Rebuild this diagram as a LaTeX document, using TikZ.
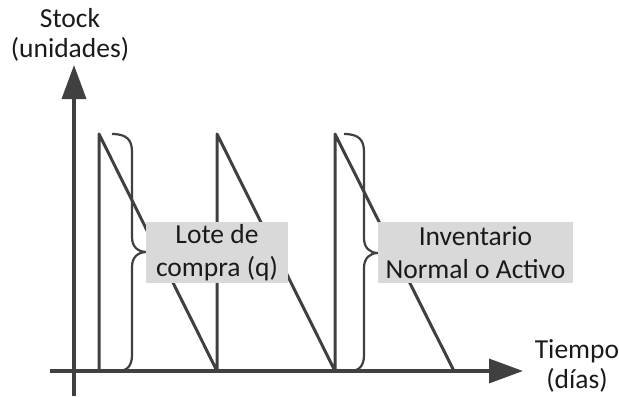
\documentclass[tikz,border=0pt]{standalone}
\usepackage{fontspec}
\setmainfont{Carlito}
\usetikzlibrary{arrows.meta}
\definecolor{linegray}{HTML}{404040}
\definecolor{boxgray}{HTML}{D9D9D9}
\definecolor{textgray}{HTML}{1A1A1A}
\begin{document}
\begin{tikzpicture}[x=1bp,y=-1bp,
  axis/.style={draw=linegray,line width=3.5bp,-{Triangle[length=34bp,width=24bp]}},
  saw/.style={draw=linegray,line width=3bp,line join=round},
  brace/.style={draw=linegray,line width=2.2bp},
  labelbox/.style={fill=boxgray,inner sep=0,minimum height=61bp,align=center,
     text=textgray,font=\fontsize{27.5bp}{33bp}\selectfont},
  axislabel/.style={align=center,inner sep=0,text=textgray,
     font=\fontsize{27.5bp}{30bp}\selectfont}]
\useasboundingbox (0,0) rectangle (619,396);
% coordinates
\coordinate (yb) at (74,396);
\coordinate (yt) at (74,65);
\coordinate (xl) at (50,371);
\coordinate (xr) at (523,371);
\coordinate (p0) at (99,371);
\coordinate (p1) at (99,134);
\coordinate (p2) at (217,371);
\coordinate (p3) at (217,134);
\coordinate (p4) at (335,371);
\coordinate (p5) at (335,134);
\coordinate (p6) at (454,371);
% axes
\draw[axis] (yb) -- (yt);
\draw[axis] (xl) -- (xr);
% sawtooth
\draw[saw] (p0) -- (p1) -- (p2) -- (p3) -- (p4) -- (p5) -- (p6);
% braces
\coordinate (b1t) at (112,134);
\coordinate (b1m) at (147,252);
\coordinate (b1b) at (118,371);
\draw[brace] (b1t) .. controls (127,134) and (132,140) .. (132,152)
  -- (132,237) .. controls (132,247) and (138,252) .. (b1m)
  .. controls (138,252) and (132,257) .. (132,267)
  -- (132,355) .. controls (132,366) and (127,371) .. (b1b);
\coordinate (b2t) at (344,134);
\coordinate (b2m) at (378,253);
\coordinate (b2b) at (350,371);
\draw[brace] (b2t) .. controls (359,134) and (364,140) .. (364,152)
  -- (364,238) .. controls (364,248) and (370,253) .. (b2m)
  .. controls (370,253) and (364,258) .. (364,268)
  -- (364,355) .. controls (364,366) and (359,371) .. (b2b);
% label boxes
\node[labelbox,minimum width=142bp] (lote) at (217,252.5) {Lote de\\compra (q)};
\node[labelbox,minimum width=195bp] (inv) at (475.5,252.5) {Inventario\\Normal o Activo};
% axis labels
\node[axislabel] (stock) at (70,35) {Stock\\(unidades)};
\node[axislabel] (tiempo) at (577,366) {Tiempo\\(días)};
\end{tikzpicture}
\end{document}
